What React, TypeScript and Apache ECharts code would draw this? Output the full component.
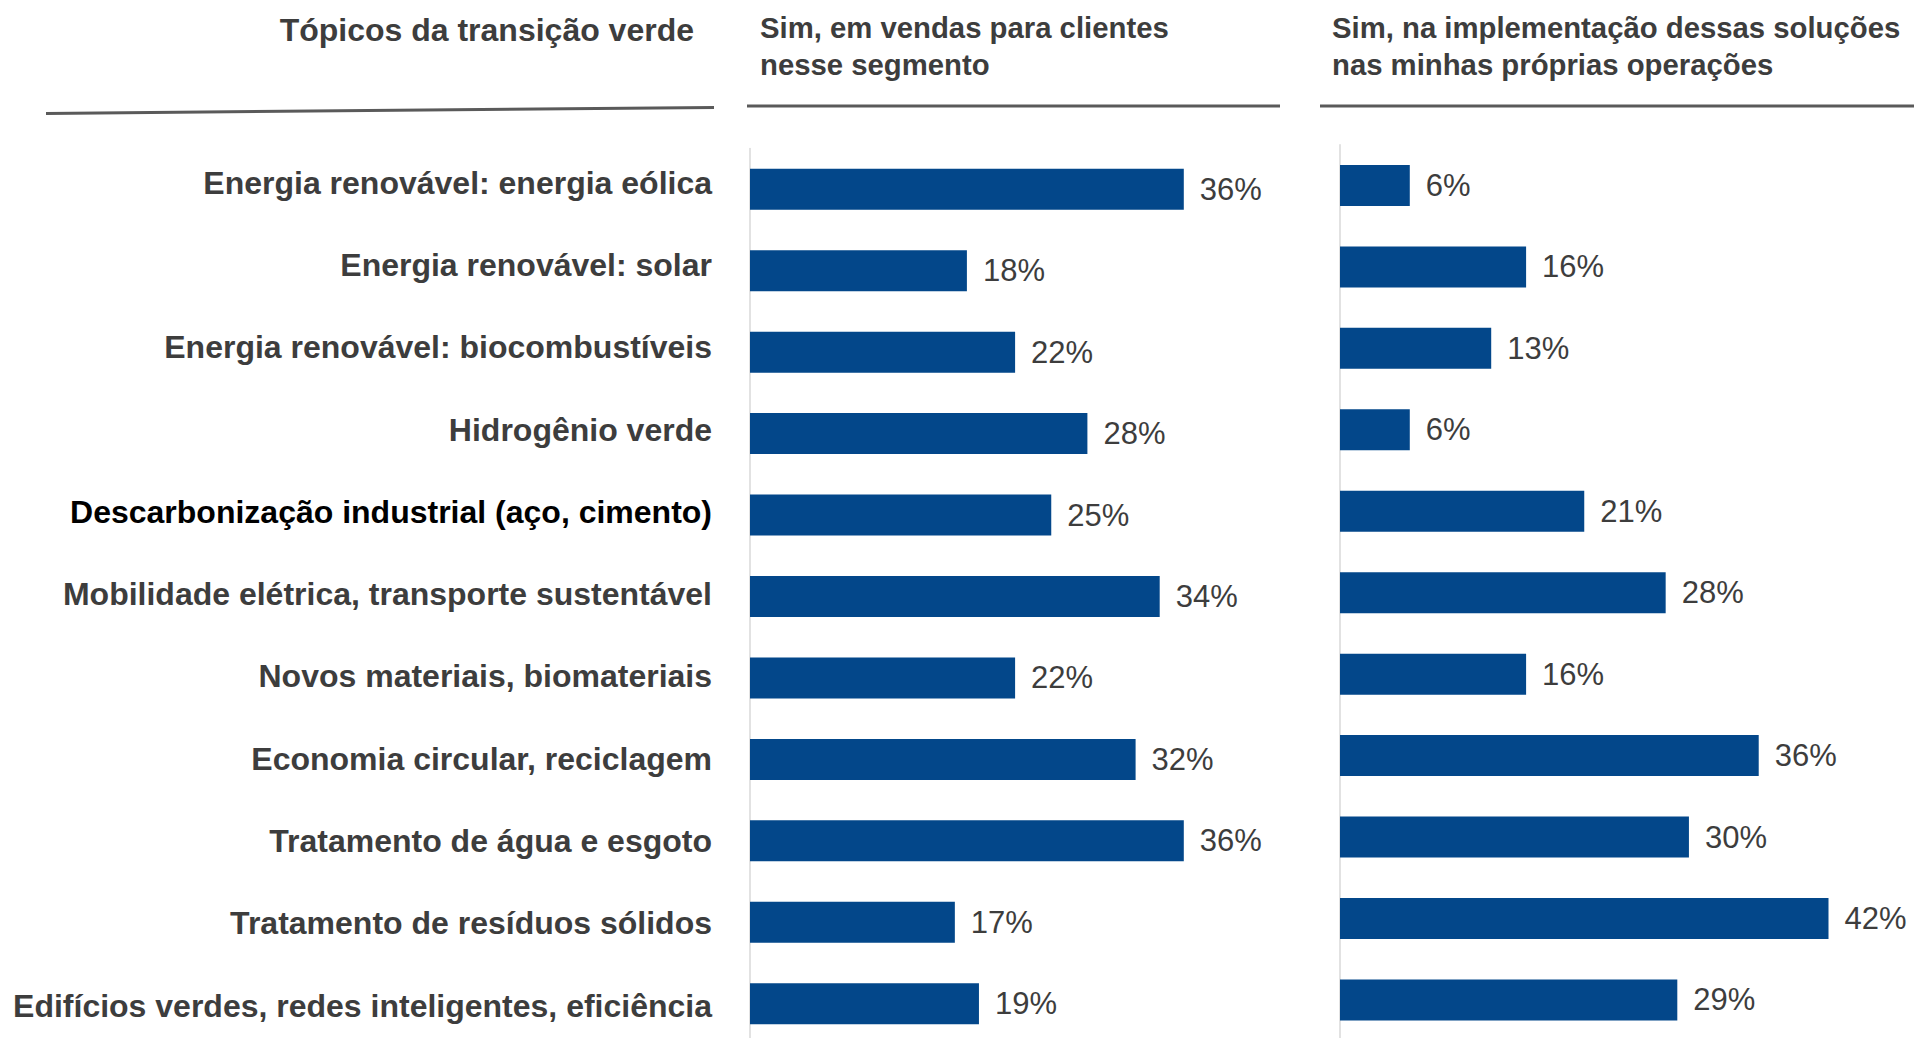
import React, { useEffect, useRef } from "react";
import * as echarts from "echarts";

const categories = [
  "Energia renovável: energia eólica",
  "Energia renovável: solar",
  "Energia renovável: biocombustíveis",
  "Hidrogênio verde",
  "Descarbonização industrial (aço, cimento)",
  "Mobilidade elétrica, transporte sustentável",
  "Novos materiais, biomateriais",
  "Economia circular, reciclagem",
  "Tratamento de água e esgoto",
  "Tratamento de resíduos sólidos",
  "Edifícios verdes, redes inteligentes, eficiência",
];
const highlighted = ["Descarbonização industrial (aço, cimento)"];
const salesValues = [36, 18, 22, 28, 25, 34, 22, 32, 36, 17, 19];
const opsValues = [6, 16, 13, 6, 21, 28, 16, 36, 30, 42, 29];

const headerTopics = "Tópicos da transição verde";
const headerSales = ["Sim, em vendas para clientes", "nesse segmento"];
const headerOps = ["Sim, na implementação dessas soluções", "nas minhas próprias operações"];

const FONT = '"Liberation Sans", Arial, Helvetica, sans-serif';
const BAR = "#03478a";
const TEXT = "#3d3d3d";

export default function App() {
  const ref = useRef<HTMLDivElement>(null);
  useEffect(() => {
    if (!ref.current) return;
    const chart = echarts.init(ref.current, null, { renderer: "svg" });
    const catData = categories.map((c) =>
      highlighted.includes(c) ? { value: c, textStyle: { color: "#000000" } } : c
    );
    const label = {
      show: true,
      position: "right",
      distance: 16,
      formatter: "{c}%",
      fontFamily: FONT,
      fontSize: 31,
      color: TEXT,
    };
    const headerText = (x: number, y: number, text: string, size: number, align: string) => ({
      type: "text",
      x,
      y,
      style: {
        text,
        fontFamily: FONT,
        fontSize: size,
        fontWeight: "bold",
        fill: TEXT,
        textAlign: align,
        textVerticalAlign: "middle",
      },
    });
    chart.setOption({
      animation: false,
      backgroundColor: "#ffffff",
      textStyle: { fontFamily: FONT },
      grid: [
        { left: 750, top: 148.5, width: 482, height: 896, containLabel: false, outerBoundsMode: "none" },
        { left: 1340, top: 144.7, width: 523.4, height: 896, containLabel: false, outerBoundsMode: "none" },
        { left: 750, top: 141.7, width: 482, height: 905, containLabel: false, outerBoundsMode: "none" },
      ],
      xAxis: [
        { type: "value", gridIndex: 0, min: 0, max: 40, show: false },
        { type: "value", gridIndex: 1, min: 0, max: 45, show: false },
        { type: "value", gridIndex: 2, min: 0, max: 40, show: false },
      ],
      yAxis: [
        {
          type: "category",
          gridIndex: 0,
          inverse: true,
          data: categories,
          axisLine: { show: true, lineStyle: { color: "#d9d9d9", width: 1.5 } },
          axisTick: { show: false },
          splitLine: { show: false },
          axisLabel: { show: false },
        },
        {
          type: "category",
          gridIndex: 1,
          inverse: true,
          data: categories,
          axisLine: { show: true, lineStyle: { color: "#d9d9d9", width: 1.5 } },
          axisTick: { show: false },
          splitLine: { show: false },
          axisLabel: { show: false },
        },
        {
          type: "category",
          gridIndex: 2,
          inverse: true,
          data: catData,
          axisLine: { show: false },
          axisTick: { show: false },
          splitLine: { show: false },
          axisLabel: {
            margin: 38,
            fontFamily: FONT,
            fontSize: 32,
            fontWeight: "bold",
            color: TEXT,
          },
        },
      ],
      series: [
        {
          type: "bar",
          xAxisIndex: 0,
          yAxisIndex: 0,
          data: salesValues,
          barWidth: 41,
          itemStyle: { color: BAR },
          label,
        },
        {
          type: "bar",
          xAxisIndex: 1,
          yAxisIndex: 1,
          data: opsValues,
          barWidth: 41,
          itemStyle: { color: BAR },
          label,
        },
      ],
      graphic: [
        headerText(694, 30, headerTopics, 32, "right"),
        headerText(760, 27.5, headerSales[0], 29.3, "left"),
        headerText(760, 64.5, headerSales[1], 29.3, "left"),
        headerText(1332, 27.5, headerOps[0], 29.3, "left"),
        headerText(1332, 64.5, headerOps[1], 29.3, "left"),
        {
          type: "line",
          shape: { x1: 46, y1: 113.5, x2: 714, y2: 107.4 },
          style: { stroke: "#5a5a5a", lineWidth: 3 },
        },
        {
          type: "line",
          shape: { x1: 747, y1: 106, x2: 1280, y2: 106 },
          style: { stroke: "#5a5a5a", lineWidth: 3 },
        },
        {
          type: "line",
          shape: { x1: 1320, y1: 106, x2: 1914, y2: 106 },
          style: { stroke: "#5a5a5a", lineWidth: 3 },
        },
      ],
    });
    return () => chart.dispose();
  }, []);
  return (
    <div
      ref={ref}
      style={{ position: "fixed", left: 0, top: 0, width: 1914, height: 1060 }}
    />
  );
}
